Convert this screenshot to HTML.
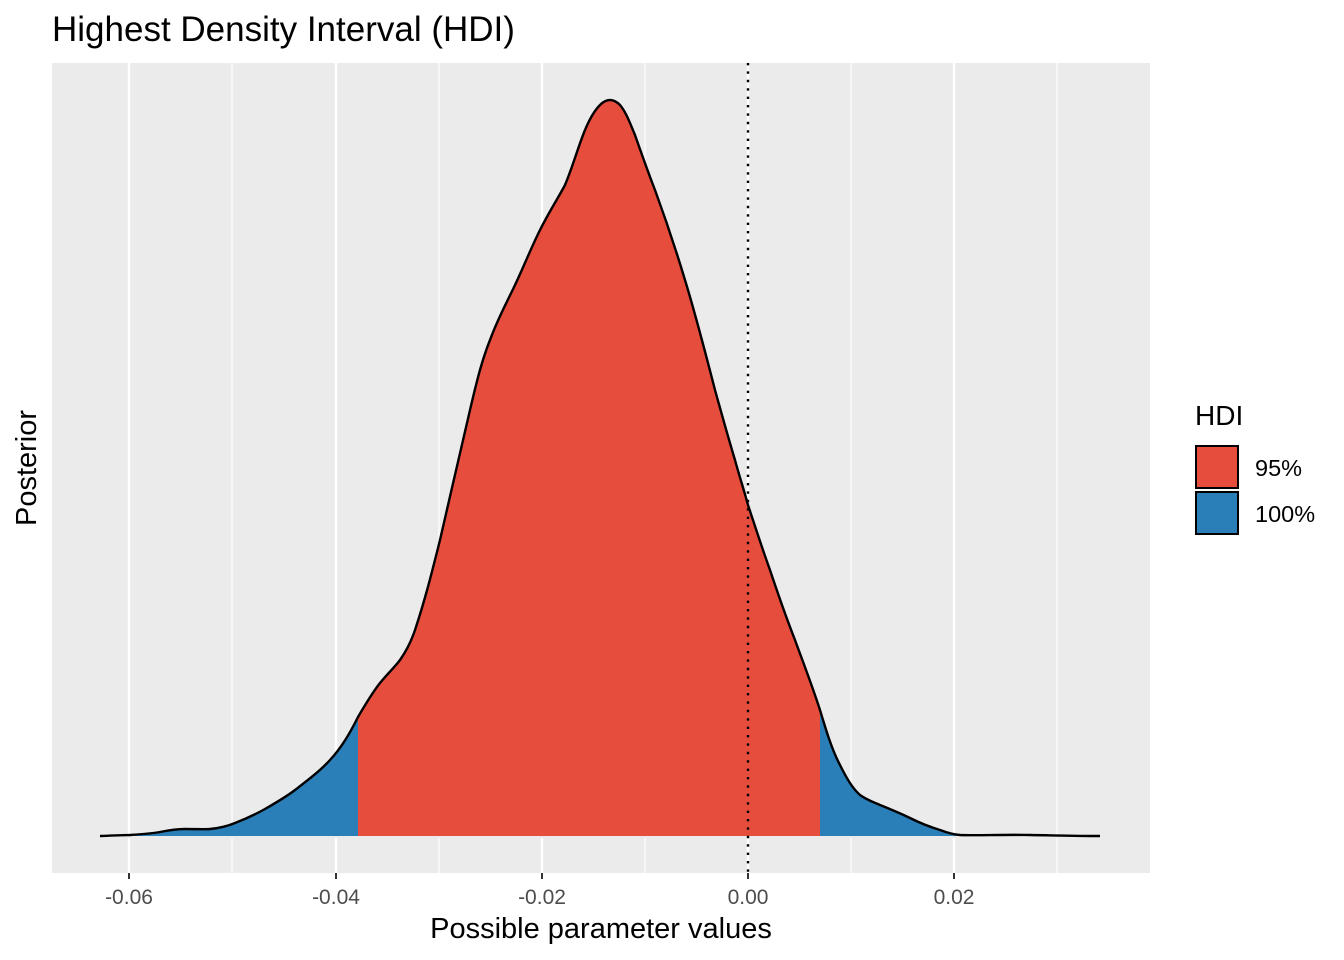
<!DOCTYPE html>
<html><head><meta charset="utf-8"><style>
body{margin:0;background:#fff;}
svg{display:block;font-family:"Liberation Sans",sans-serif;}
</style></head><body>
<svg width="1344" height="960" viewBox="0 0 1344 960">
<rect x="0" y="0" width="1344" height="960" fill="#fff"/>
<text x="52" y="41" font-size="35" fill="#000">Highest Density Interval (HDI)</text>
<rect x="52" y="63" width="1098" height="810" fill="#ebebeb"/>
<g stroke="#fff" stroke-width="1.2">
<line x1="232" y1="63" x2="232" y2="873"/><line x1="439" y1="63" x2="439" y2="873"/>
<line x1="645" y1="63" x2="645" y2="873"/><line x1="851" y1="63" x2="851" y2="873"/>
<line x1="1057" y1="63" x2="1057" y2="873"/>
</g>
<g stroke="#fff" stroke-width="2.4">
<line x1="129" y1="63" x2="129" y2="873"/><line x1="336" y1="63" x2="336" y2="873"/>
<line x1="542" y1="63" x2="542" y2="873"/><line x1="748" y1="63" x2="748" y2="873"/>
<line x1="954" y1="63" x2="954" y2="873"/>
</g>
<defs>
<path id="c" d="M100,836 C115,835.5 125,835 130,835 C145,834 155,833 160,832 C170,830 178,829 185,829 C195,829 205,829.5 210,829 C220,828 228,826 235,823 C248,818 256,814 265,809 C277,802 286,797 295,790 C308,780 320,771 330,760 C342,747 350,733 358,717 C365,705 372,693 380,683 C388,673 394,668 400,660 C407,650 411,642 415,630 C425,600 432,572 440,540 C450,497 460,452 470,410 C477,380 482,360 490,340 C498,318 507,302 515,285 C524,266 531,248 540,230 C549,212 557,200 565,185 C573,166 578,147 585,130 C590,118 595,110 600,105 C604,101 607,100 610,100 C614,100 617,102 620,105 C626,112 630,123 635,135 C642,155 648,172 655,190 C666,220 676,250 685,280 C696,316 706,355 715,390 C722,415 728,437 735,460 C739,475 744,490 748,505 C755,526 762,548 770,570 C778,594 786,617 795,640 C803,662 812,685 820,710 C826,730 832,750 840,765 C846,777 852,788 860,795 C867,800 873,802 880,805 C890,809 900,813 910,818 C920,823 930,827 940,830 C948,833 953,834.5 960,835 C975,835.5 990,835 1000,835 C1015,834.7 1025,835 1030,835 C1060,835.5 1080,836 1100,836"/>
<clipPath id="red"><rect x="358" y="0" width="462" height="960"/></clipPath>
<clipPath id="blue1"><rect x="0" y="0" width="358" height="960"/></clipPath>
<clipPath id="blue2"><rect x="820" y="0" width="400" height="960"/></clipPath>
</defs>
<g>
<use href="#c" fill="#2b7fb8" clip-path="url(#blue1)"/>
<use href="#c" fill="#2b7fb8" clip-path="url(#blue2)"/>
<use href="#c" fill="#e64d3d" clip-path="url(#red)"/>
<rect x="100" y="836" width="1000" height="2" fill="#ebebeb"/>
<use href="#c" fill="none" stroke="#000" stroke-width="2.4"/>
</g>
<line x1="748" y1="63" x2="748" y2="873" stroke="#000" stroke-width="2.4" stroke-dasharray="2.4,6"/>
<g stroke="#333" stroke-width="2">
<line x1="129" y1="873" x2="129" y2="879"/><line x1="336" y1="873" x2="336" y2="879"/>
<line x1="542" y1="873" x2="542" y2="879"/><line x1="748" y1="873" x2="748" y2="879"/>
<line x1="954" y1="873" x2="954" y2="879"/>
</g>
<g font-size="21" fill="#4d4d4d" text-anchor="middle">
<text x="129" y="904">-0.06</text><text x="336" y="904">-0.04</text><text x="542" y="904">-0.02</text>
<text x="748" y="904">0.00</text><text x="954" y="904">0.02</text>
</g>
<text x="601" y="938" font-size="29" text-anchor="middle" fill="#000">Possible parameter values</text>
<text transform="translate(36,468) rotate(-90)" font-size="29" text-anchor="middle" fill="#000">Posterior</text>
<text x="1195" y="425" font-size="28" fill="#000">HDI</text>
<rect x="1196" y="446" width="42" height="42" fill="#e64d3d" stroke="#000" stroke-width="2"/>
<rect x="1196" y="492" width="42" height="42" fill="#2b7fb8" stroke="#000" stroke-width="2"/>
<text x="1255" y="476" font-size="23.5" fill="#000">95%</text>
<text x="1255" y="522" font-size="23.5" fill="#000">100%</text>
</svg>
</body></html>
